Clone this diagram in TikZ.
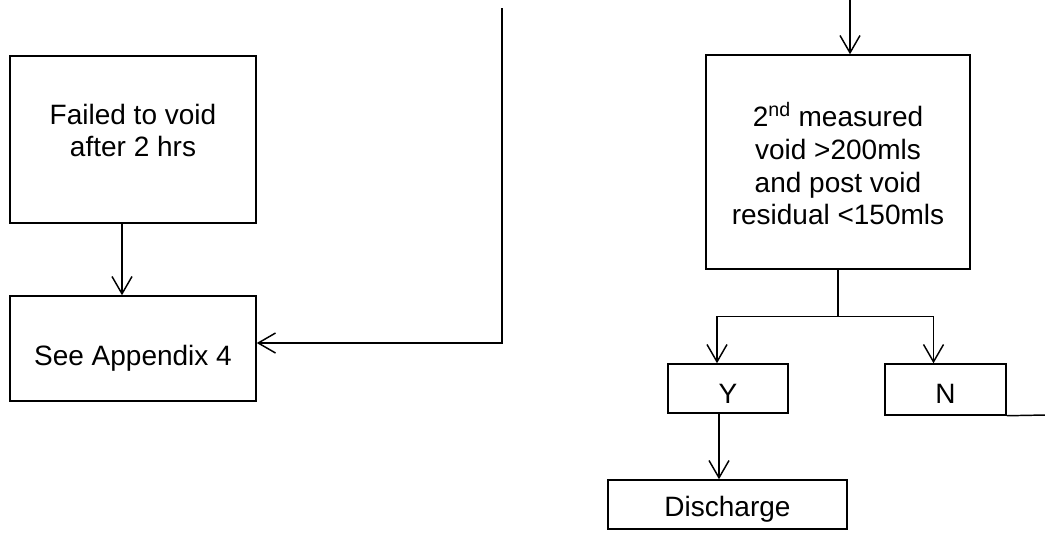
\documentclass[tikz,border=0pt]{standalone}
\usepackage{fontspec}
\setmainfont{Liberation Sans}
\usetikzlibrary{calc,arrows.meta}

\begin{document}
\begin{tikzpicture}[x=0.75pt,y=-0.75pt,
  box/.style={draw,line width=1.1pt,inner sep=0pt},
  lbl/.style={align=center,inner sep=0pt,font=\fontsize{21}{24.5}\selectfont},
  link/.style={line width=1.1pt},
  arr/.style={link,-{Straight Barb[length=13pt,width=15pt,line width=1.1pt]}}]
  \useasboundingbox (0,0) rectangle (1045,537);

  %% Left branch
  \node[box,minimum width=184.5pt,minimum height=125.25pt,
    label={[lbl,yshift=6.75pt]center:{Failed to void\\after 2 hrs}}] (fail) at (133,139.5) {};
  \node[box,minimum width=184.5pt,minimum height=78.75pt,
    label={[lbl,yshift=-7.5pt]center:See Appendix 4}] (app) at (133,348.5) {};
  \draw[arr] ($(fail.south)+(-11,0)$) -- ($(app.north)+(-11,0)$);

  %% Line coming in from above
  \coordinate (topL) at (502,8);
  \draw[arr] (topL) |- ($(app.east)+(0,-5.5)$);

  %% Right branch
  \node[box,minimum width=198pt,minimum height=160.5pt,
    label={[lbl,yshift=-1.5pt]center:{2\textsuperscript{nd} measured\\void >200mls\\and post void\\residual <150mls}}] (meas) at (838,162) {};
  \coordinate (topR) at (850,0);
  \draw[arr] (topR) -- (topR |- meas.north);

  \node[box,minimum width=90pt,minimum height=36.75pt,
    label={[lbl,yshift=-3.75pt]center:Y}] (yes) at (728,388.5) {};
  \node[box,minimum width=90.75pt,minimum height=38.25pt,
    label={[lbl,yshift=-3pt]center:N}] (no) at (945.5,389.5) {};
  \node[box,minimum width=179.25pt,minimum height=36.75pt,
    label={[lbl,yshift=-3.75pt]center:Discharge}] (dis) at (727.5,504.5) {};

  \draw[link] (meas.south) -- ++(0,47) coordinate (split);
  \draw[arr] (split) -| ($(yes.north)+(-11,0)$);
  \draw[arr] (split) -| ($(no.north)+(-12,0)$);
  \draw[arr] ($(yes.south)+(-9,0)$) -- ($(dis.north)+(-8.5,0)$);

  %% Line leaving to the right
  \coordinate (exitR) at (1045,415);
  \draw[link] (no.south east) -- (exitR);
\end{tikzpicture}
\end{document}
